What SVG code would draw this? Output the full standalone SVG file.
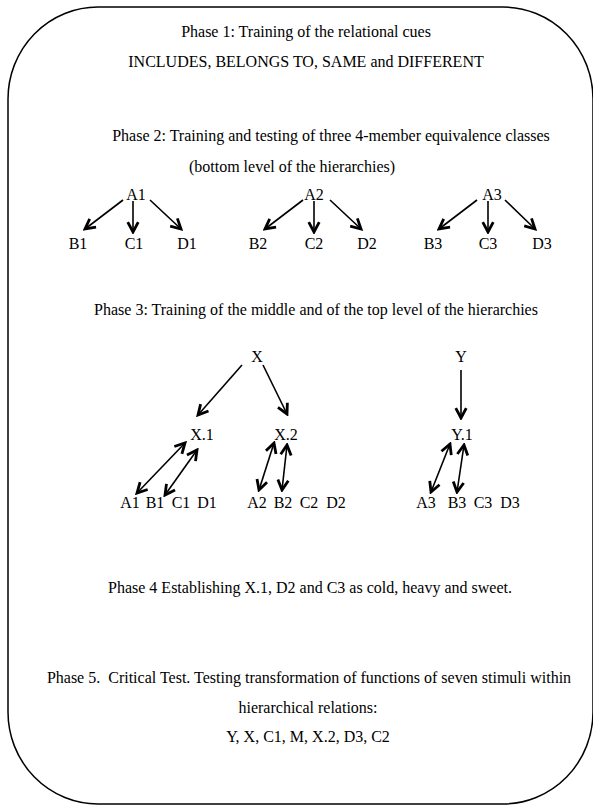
<svg xmlns="http://www.w3.org/2000/svg" width="593" height="806" viewBox="0 0 593 806">
<style>
text{font-family:"Liberation Serif","Times New Roman",serif;font-size:16px;fill:#000;text-anchor:middle}
.ln{stroke:#000;stroke-width:1.6;fill:none}
</style>
<defs>
<marker id="ah" markerUnits="userSpaceOnUse" markerWidth="14" markerHeight="14" viewBox="0 0 12 12" refX="10" refY="6" orient="auto-start-reverse">
<path d="M1.5,1.5 L10,6 L1.5,10.5" fill="none" stroke="#000" stroke-width="2.4" stroke-linejoin="miter"/>
</marker>
</defs>
<rect id="frame" x="8" y="7" width="585" height="797" rx="90" ry="92" fill="#fff" stroke="#000" stroke-width="1.5"/>
<g id="phase1">
<text x="306" y="37">Phase 1: Training of the relational cues</text>
<text x="306" y="67">INCLUDES, BELONGS TO, SAME and DIFFERENT</text>
</g>
<g id="phase2">
<text x="331" y="141">Phase 2: Training and testing of three 4-member equivalence classes</text>
<text x="292" y="172">(bottom level of the hierarchies)</text>
</g>
<g id="A1"><text x="136" y="200">A1</text></g>
<g id="B1"><text x="78" y="249">B1</text></g>
<g id="C1"><text x="134" y="249">C1</text></g>
<g id="D1"><text x="187" y="249">D1</text></g>
<g id="A2"><text x="314" y="200">A2</text></g>
<g id="B2"><text x="258" y="249">B2</text></g>
<g id="C2"><text x="314" y="249">C2</text></g>
<g id="D2"><text x="367" y="249">D2</text></g>
<g id="A3"><text x="492" y="200">A3</text></g>
<g id="B3"><text x="433" y="249">B3</text></g>
<g id="C3"><text x="488" y="249">C3</text></g>
<g id="D3"><text x="542" y="249">D3</text></g>
<g id="phase3"><text x="316" y="315">Phase 3: Training of the middle and of the top level of the hierarchies</text></g>
<g id="X"><text x="257" y="362">X</text></g>
<g id="X1"><text x="202" y="440">X.1</text></g>
<g id="X2"><text x="286" y="440">X.2</text></g>
<g id="Y"><text x="461" y="362">Y</text></g>
<g id="Y1"><text x="462" y="440">Y.1</text></g>
<g id="row1">
<text x="130" y="508">A1</text><text x="155" y="508">B1</text><text x="181" y="508">C1</text><text x="207" y="508">D1</text>
</g>
<g id="row2">
<text x="257" y="508">A2</text><text x="283" y="508">B2</text><text x="309" y="508">C2</text><text x="336" y="508">D2</text>
</g>
<g id="row3">
<text x="426" y="508">A3</text><text x="457" y="508">B3</text><text x="483" y="508">C3</text><text x="510" y="508">D3</text>
</g>
<g id="phase4"><text x="310" y="593">Phase 4 Establishing X.1, D2 and C3 as cold, heavy and sweet.</text></g>
<g id="phase5">
<text x="309" y="683" xml:space="preserve">Phase 5.  Critical Test. Testing transformation of functions of seven stimuli within</text>
<text x="308" y="713">hierarchical relations:</text>
<text x="308" y="742">Y, X, C1, M, X.2, D3, C2</text>
</g>
<g id="connectors" class="ln">
<path d="M123,200 L85,229" marker-end="url(#ah)"/>
<path d="M133,201 L133,232" marker-end="url(#ah)"/>
<path d="M150,200 L181,229" marker-end="url(#ah)"/>
<path d="M303,200 L265,229" marker-end="url(#ah)"/>
<path d="M314,201 L314,232" marker-end="url(#ah)"/>
<path d="M330,200 L361,229" marker-end="url(#ah)"/>
<path d="M477,200 L439,229" marker-end="url(#ah)"/>
<path d="M488,201 L488,232" marker-end="url(#ah)"/>
<path d="M505,200 L535,229" marker-end="url(#ah)"/>
<path d="M242,365 L198,415" marker-end="url(#ah)"/>
<path d="M263,365 L287,414" marker-end="url(#ah)"/>
<path d="M461,370 L461,418" marker-end="url(#ah)"/>
<path d="M137,493 L185,443" marker-start="url(#ah)" marker-end="url(#ah)"/>
<path d="M165,495 L197,450" marker-start="url(#ah)" marker-end="url(#ah)"/>
<path d="M259,490 L274,443" marker-start="url(#ah)" marker-end="url(#ah)"/>
<path d="M282,490 L287,445" marker-start="url(#ah)" marker-end="url(#ah)"/>
<path d="M431,492 L450,444" marker-start="url(#ah)" marker-end="url(#ah)"/>
<path d="M457,492 L464,445" marker-start="url(#ah)" marker-end="url(#ah)"/>
</g>
</svg>
